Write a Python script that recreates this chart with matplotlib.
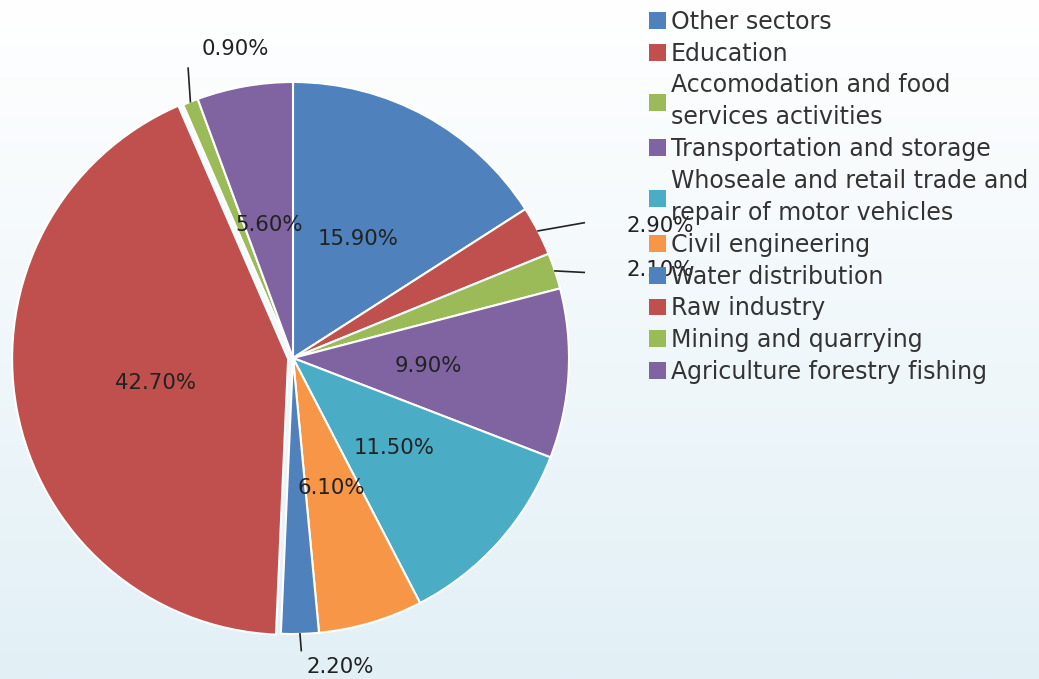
import numpy as np
import matplotlib.pyplot as plt
from matplotlib.patches import Patch

# Sector shares (%), clockwise from 12 o'clock
sectors = [
    "Other sectors",
    "Education",
    "Accomodation and food\nservices activities",
    "Transportation and storage",
    "Whoseale and retail trade and\nrepair of motor vehicles",
    "Civil engineering",
    "Water distribution",
    "Raw industry",
    "Mining and quarrying",
    "Agriculture forestry fishing",
]
shares = [15.9, 2.9, 2.1, 9.9, 11.5, 6.1, 2.2, 42.7, 0.9, 5.6]
colors = ["#4F81BD", "#C0504D", "#9BBB59", "#8064A2", "#4BACC6",
          "#F79646", "#4F81BD", "#C0504D", "#9BBB59", "#8064A2"]
explode = [0, 0, 0, 0, 0, 0, 0, 0.018, 0, 0]

# outside labels: index -> (line end offset, text offset) in radius units
outside = {
    1: ((1.055, 0.49), (1.21, 0.48), "left"),
    2: ((1.055, 0.31), (1.21, 0.32), "left"),
    8: ((-0.38, 1.05), (-0.21, 1.12), "center"),
    6: ((0.03, -1.06), (0.17, -1.12), "center"),
}

W, H = 1039, 679
fig = plt.figure(figsize=(W / 100, H / 100), dpi=100)

# Background gradient: white at top, pale blue at bottom
bg = fig.add_axes([0, 0, 1, 1])
grad = np.linspace(0, 1, 256).reshape(-1, 1)
top = np.array([1.0, 1.0, 1.0])
bot = np.array([226, 240, 246]) / 255
img = top + (bot - top) * grad[:, :, None]
bg.imshow(img, aspect="auto", extent=[0, 1, 0, 1])
bg.axis("off")

# Pie axes
cx, cy, r = 293, 358, 276
ax = fig.add_axes([(cx - r) / W, (H - cy - r) / H, 2 * r / W, 2 * r / H])
ax.axis("off")

labels_in = [f"{v:.2f}%" if i not in outside else "" for i, v in enumerate(shares)]
wedges, texts = ax.pie(
    shares, colors=colors, startangle=90, counterclock=False,
    explode=explode, labels=labels_in, labeldistance=0.49,
    wedgeprops=dict(edgecolor="white", linewidth=1.5),
    textprops=dict(fontsize=15.3, color="#222222", ha="center", va="center"),
    radius=1, frame=False,
)
for t in texts:
    t.set_horizontalalignment("center")
ax.set_xlim(-1, 1)
ax.set_ylim(-1, 1)

# Leader-line labels for the small slices
for i, (lend, tpos, ha) in outside.items():
    w = wedges[i]
    ang = np.deg2rad((w.theta1 + w.theta2) / 2)
    ex, ey = np.cos(ang), np.sin(ang)
    ax.plot([ex, lend[0]], [ey, lend[1]], color="#222222", lw=1.2, clip_on=False)
    ax.text(tpos[0], tpos[1], f"{shares[i]:.2f}%", fontsize=15.3, color="#222222",
            ha=ha, va="center", clip_on=False)

handles = [Patch(facecolor=c, edgecolor="none") for c in colors]
leg = fig.legend(handles, sectors, loc="upper left",
                 bbox_to_anchor=(637 / W, 1 + 2 / H), frameon=False,
                 fontsize=17, handlelength=0.72, handleheight=0.72,
                 handletextpad=0.2, labelspacing=0.33, borderpad=0)
for t in leg.get_texts():
    t.set_color("#333333")
    t.set_linespacing(1.42)

fig.savefig("out.png", dpi=100)
